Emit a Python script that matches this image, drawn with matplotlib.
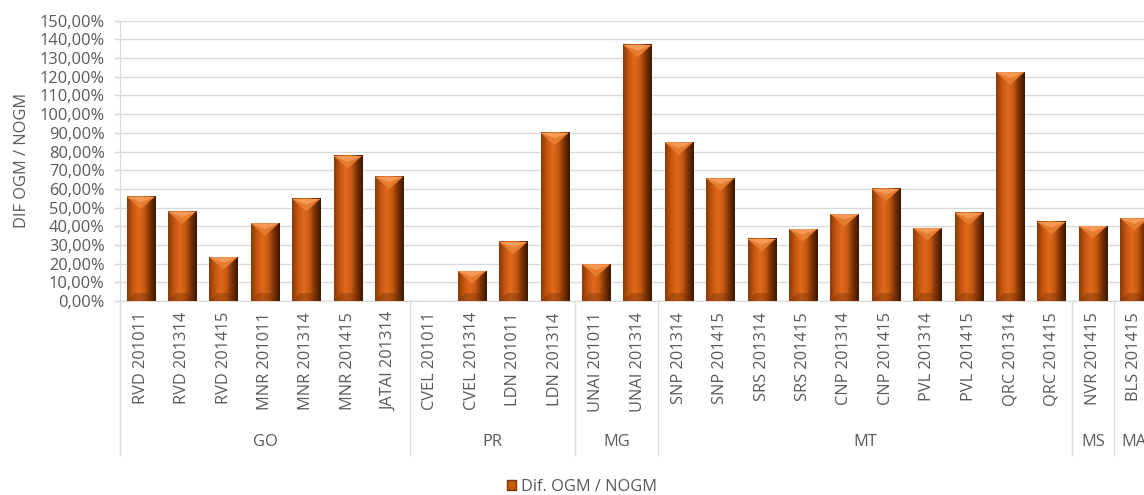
import numpy as np
import matplotlib
matplotlib.use("Agg")
import matplotlib.pyplot as plt
from matplotlib.colors import LinearSegmentedColormap
from matplotlib.patches import Polygon, Patch
from matplotlib.ticker import FuncFormatter, MultipleLocator

plt.rcParams["font.family"] = ["Open Sans", "DejaVu Sans"]

categories = [
    "RVD 201011", "RVD 201314", "RVD 201415", "MNR 201011", "MNR 201314",
    "MNR 201415", "JATAI 201314",
    "CVEL 201011", "CVEL 201314", "LDN 201011", "LDN 201314",
    "UNAI 201011", "UNAI 201314",
    "SNP 201314", "SNP 201415", "SRS 201314", "SRS 201415", "CNP 201314",
    "CNP 201415", "PVL 201314", "PVL 201415", "QRC 201314", "QRC 201415",
    "NVR 201415",
    "BLS 201415",
]
values = [
    55.8, 47.8, 23.4, 41.6, 54.6, 77.6, 66.5,
    0.0, 16.0, 31.6, 90.0,
    19.6, 137.0,
    84.9, 65.6, 33.2, 38.5, 46.5, 60.0, 39.0, 47.2, 122.4, 42.3,
    40.1,
    44.2,
]
groups = ["GO", "PR", "MG", "MT", "MS", "MA"]
group_sizes = [7, 4, 2, 10, 1, 1]
series_name = "Dif. OGM / NOGM"

TEXT = "#595959"
GRID = "#D9D9D9"
FS = 11.8

fig = plt.figure(figsize=(11.44, 4.95), dpi=100)
ax_h = 280.3 / 495
ax_w = 25 * 41.4 / 1144
ax = fig.add_axes([120 / 1144, 1 - 301 / 495, ax_w, ax_h])

n = len(categories)
x = np.arange(n)

bars = ax.bar(x, values, width=0.68, color="#C55A11", zorder=2)

# bevel look: horizontal gradient + top/bottom facets
grad = LinearSegmentedColormap.from_list(
    "bev", ["#8a3a08", "#c4560f", "#e0691c", "#c85a12", "#7a3206", "#3a1703"])
g = np.linspace(0, 1, 64).reshape(1, -1)
px_per_unit = (ax_h * 495) / 150.0
for b in bars:
    x0, w, h = b.get_x(), b.get_width(), b.get_height()
    if h <= 0:
        continue
    ax.imshow(g, cmap=grad, extent=(x0, x0 + w, 0, h), aspect="auto",
              zorder=3, interpolation="bilinear")
    d = min(12.5 / px_per_unit, h / 2)
    ax.add_patch(Polygon([(x0, h), (x0 + w, h), (x0 + w / 2, h - d)],
                         closed=True, facecolor="#e57c30", edgecolor="none", zorder=4))
    ax.add_patch(Polygon([(x0, h), (x0 + w, h), (x0 + w * 0.5, h - d * 0.45)],
                         closed=True, facecolor="#f49a55", edgecolor="none", zorder=4))
    db = min(8 / px_per_unit, h / 2)
    ax.add_patch(Polygon([(x0, 0), (x0 + w, 0), (x0 + w * 0.72, db), (x0 + w * 0.28, db)],
                         closed=True, facecolor="#6b2c06", alpha=0.35,
                         edgecolor="none", zorder=4))

ax.set_xlim(-0.5, n - 0.5)
ax.set_ylim(0, 150)

ax.yaxis.set_major_locator(MultipleLocator(10))
ax.yaxis.set_major_formatter(FuncFormatter(lambda v, p: f"{v:.2f}%".replace(".", ",")))
ax.grid(axis="y", color=GRID, linewidth=1, zorder=0)
ax.set_axisbelow(True)
ax.tick_params(axis="y", colors=GRID, labelcolor=TEXT, labelsize=FS,
               length=4, width=1, pad=7)
for s in ["top", "right"]:
    ax.spines[s].set_visible(False)
ax.spines["left"].set_color(GRID)
ax.spines["bottom"].set_color(GRID)

ax.set_xticks(x)
ax.set_xticklabels(categories, rotation=90, color=TEXT, fontsize=FS, va="top")
ax.tick_params(axis="x", length=0, pad=8)

ax.set_ylabel("DIF OGM / NOGM", color=TEXT, fontsize=FS, labelpad=7)

# second level of the category axis
trans = ax.get_xaxis_transform()
edges = np.concatenate([[0], np.cumsum(group_sizes)]) - 0.5
for i, name in enumerate(groups):
    mid = (edges[i] + edges[i + 1]) / 2
    ax.text(mid, -0.503, name, transform=trans, ha="center", va="center",
            color=TEXT, fontsize=FS, clip_on=False)
for e in edges:
    ax.plot([e, e], [0, -0.549], transform=trans, color=GRID, lw=1, clip_on=False)

handle = Patch(facecolor="#C55A11", edgecolor="#7a3206")
fig.legend([handle], [series_name], loc="center", bbox_to_anchor=(582 / 1144, 1 - 487 / 495),
           frameon=False, fontsize=FS, labelcolor=TEXT, handlelength=0.6,
           handleheight=0.6, handletextpad=0.3)

fig.savefig("out.png", dpi=100)
